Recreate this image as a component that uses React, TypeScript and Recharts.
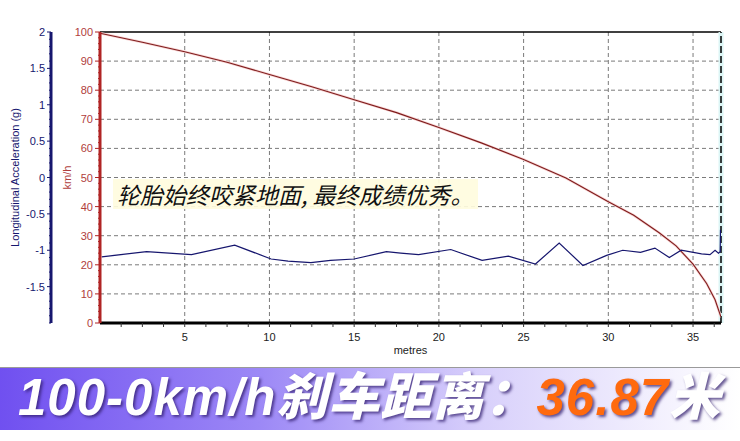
import React from 'react';
import { ComposedChart, Line, XAxis, YAxis, ReferenceLine } from 'recharts';

// speed trace: metres -> km/h
const speedDistance = [0, 2.5, 5, 7.5, 10, 12.5, 15, 17.5, 20, 22.5, 25, 27.5, 30, 31.5, 33, 34, 35, 35.8, 36.3, 36.65];
const speedValues = [99.6, 96.5, 93.2, 89.6, 85.4, 81.2, 76.7, 72.3, 67.2, 61.9, 56.2, 49.8, 41.7, 37, 31, 26.5, 20.2, 13.6, 8, 2];

// longitudinal acceleration trace: metres -> g
const accelDistance = [
  0.1, 2.75, 5.4, 7.95, 10.1, 11.1, 12.45, 13.6, 15.0, 16.9, 17.75, 18.8, 20.7, 22.55, 24.1, 25.7, 27.1, 28.5,
  29.9, 30.85, 31.9, 32.75, 33.6, 34.3, 35.5, 36.0, 36.3, 36.5, 36.6, 36.62,
];
const accelValues = [
  -1.09, -1.02, -1.06, -0.93, -1.12, -1.15, -1.17, -1.14, -1.12, -1.02, -1.04, -1.06, -0.99, -1.14, -1.08, -1.19, -0.9, -1.21,
  -1.07, -1.0, -1.03, -0.97, -1.1, -1.0, -1.05, -1.06, -1.0, -1.04, -1.02, -0.72,
];

const xEnd = 36.65;
const xMajorTicks = [5, 10, 15, 20, 25, 30, 35];
const speedMajorTicks = [0, 10, 20, 30, 40, 50, 60, 70, 80, 90, 100];
const accelTickLabels = ['2', '1.5', '1', '0.5', '0', '-0.5', '-1', '-1.5'];

const speedData = speedDistance.map((m, i) => ({ m, v: speedValues[i] }));
const accelData = accelDistance.map((m, i) => ({ m, g: accelValues[i] }));

// minor tick positions (major ones get a label)
const xTicks = Array.from({ length: 29 }, (_, i) => (i + 1) * 1.25);
const speedTicks = Array.from({ length: 51 }, (_, i) => i * 2);
const accelTicks = Array.from({ length: 41 }, (_, i) => (i - 20) / 10);

// axis ids: the first id sits next to the plot
const SPEED = 'a-speed';
const ACCEL = 'b-accel';

const RED = '#b02424';
const RED_TEXT = '#b0403c';
const NAVY = '#16166e';
const FONT = '"Liberation Sans", Arial, sans-serif';

const XTick = (props: any) => {
  const { x, y, payload } = props;
  const major = xMajorTicks.includes(payload.value);
  return (
    <g>
      <line x1={x} x2={x} y1={y} y2={y + 4} stroke="#333" strokeWidth={1} />
      {major && (
        <text x={x} y={y + 18} textAnchor="middle" fontSize={11} fontFamily={FONT} fill="#222">
          {payload.value}
        </text>
      )}
    </g>
  );
};

const SpeedTick = (props: any) => {
  const { x, y, payload } = props;
  const major = speedMajorTicks.includes(payload.value);
  return (
    <g>
      <line x1={x - (major ? 5 : 2)} x2={x} y1={y} y2={y} stroke={RED} strokeWidth={1} />
      {major && (
        <text x={x - 7} y={y + 4} textAnchor="end" fontSize={11} fontFamily={FONT} fill={RED_TEXT}>
          {payload.value}
        </text>
      )}
    </g>
  );
};

const AccelTick = (props: any) => {
  const { x, y, payload } = props;
  const label = accelTickLabels.find((t) => Math.abs(Number(t) - payload.value) < 1e-9);
  return (
    <g>
      <line x1={x - (label ? 4 : 2)} x2={x} y1={y} y2={y} stroke={NAVY} strokeWidth={1} />
      {label && (
        <text x={x - 6} y={y + 4} textAnchor="end" fontSize={11} fontFamily={FONT} fill={NAVY}>
          {label}
        </text>
      )}
    </g>
  );
};

const AccelTitle = (props: any) => {
  const { x, y, height } = props.viewBox;
  const cx = x + 15;
  const cy = y + height / 2;
  return (
    <text x={cx} y={cy} transform={`rotate(-90 ${cx} ${cy})`} textAnchor="middle" dominantBaseline="central"
      fontSize={11} fontFamily={FONT} fill={NAVY}>
      Longitudinal Acceleration (g)
    </text>
  );
};

const SpeedTitle = (props: any) => {
  const { x, y, height } = props.viewBox;
  const cx = x + 16;
  const cy = y + height / 2;
  return (
    <text x={cx} y={cy} transform={`rotate(-90 ${cx} ${cy})`} textAnchor="middle" dominantBaseline="central"
      fontSize={11} fontFamily={FONT} fill={RED_TEXT}>
      km/h
    </text>
  );
};

const XTitle = (props: any) => {
  const { x, y, width } = props.viewBox;
  return (
    <text x={x + width / 2} y={y + 31} textAnchor="middle" fontSize={11} fontFamily={FONT} fill="#222">
      metres
    </text>
  );
};

export default function App() {
  return (
    <div style={{ position: 'absolute', left: 0, top: 0, width: 740, height: 441, background: '#fff', overflow: 'hidden' }}>
      <ComposedChart width={740} height={360} margin={{ top: 32, right: 19, left: 0, bottom: 0 }}>
        <XAxis
          xAxisId="d"
          dataKey="m"
          type="number"
          domain={[0, xEnd]}
          allowDataOverflow
          ticks={xTicks}
          interval={0}
          tickSize={0}
          tickMargin={0}
          tick={<XTick />}
          axisLine={{ stroke: '#000', strokeWidth: 3 }}
          height={37}
          label={<XTitle />}
        />
        <YAxis
          yAxisId={SPEED}
          type="number"
          domain={[0, 100]}
          allowDataOverflow
          ticks={speedTicks}
          interval={0}
          tickSize={0}
          tickMargin={0}
          tick={<SpeedTick />}
          axisLine={{ stroke: RED, strokeWidth: 3 }}
          width={49}
          label={<SpeedTitle />}
        />
        <YAxis
          yAxisId={ACCEL}
          type="number"
          domain={[-2, 2]}
          allowDataOverflow
          ticks={accelTicks}
          interval={0}
          tickSize={0}
          tickMargin={0}
          tick={<AccelTick />}
          axisLine={{ stroke: NAVY, strokeWidth: 3 }}
          width={51}
          label={<AccelTitle />}
        />

        {speedMajorTicks.slice(1, -1).map((v) => (
          <ReferenceLine key={`h${v}`} xAxisId="d" yAxisId={SPEED} y={v} stroke="#7a7a7a" strokeDasharray="4 3" />
        ))}
        {xMajorTicks.map((v) => (
          <ReferenceLine key={`v${v}`} xAxisId="d" yAxisId={SPEED} x={v} stroke="#7a7a7a" strokeDasharray="4 3" />
        ))}
        <ReferenceLine xAxisId="d" yAxisId={SPEED} y={100} stroke="#000" strokeWidth={1.5} />
        <ReferenceLine xAxisId="d" yAxisId={SPEED} x={xEnd} stroke="#dcf5f5" strokeWidth={5} />
        <ReferenceLine xAxisId="d" yAxisId={SPEED} x={xEnd} stroke="#000" strokeWidth={1.5} strokeDasharray="7 3" />

        <Line
          xAxisId="d"
          yAxisId={SPEED}
          data={speedData}
          dataKey="v"
          type="linear"
          stroke="#f8d4d4"
          strokeWidth={2.6}
          dot={false}
          isAnimationActive={false}
        />
        <Line
          xAxisId="d"
          yAxisId={SPEED}
          data={speedData}
          dataKey="v"
          type="linear"
          stroke="#7e1c1c"
          strokeWidth={1.1}
          dot={false}
          isAnimationActive={false}
        />
        <Line
          xAxisId="d"
          yAxisId={ACCEL}
          data={accelData}
          dataKey="g"
          type="linear"
          stroke={NAVY}
          strokeWidth={1.2}
          dot={false}
          isAnimationActive={false}
        />
      </ComposedChart>

      <div
        style={{
          position: 'absolute',
          left: 113,
          top: 179,
          padding: '0 4px',
          background: 'rgba(255, 252, 222, 0.92)',
          fontFamily: '"Noto Sans CJK SC", sans-serif',
          fontSize: 23,
          lineHeight: '30px',
          color: '#111',
          fontStyle: 'italic',
          whiteSpace: 'nowrap',
        }}
      >
        轮胎始终咬紧地面, 最终成绩优秀。
      </div>

      <div
        style={{
          position: 'absolute',
          left: 0,
          top: 367,
          width: 740,
          height: 62,
          borderTop: '1px solid #9a9a9a',
          background: 'linear-gradient(to right, #7050f0 0%, #9c88f6 35%, #d8d0fb 65%, #ffffff 100%)',
        }}
      >
        <div
          style={{
            position: 'absolute',
            left: 18,
            top: 2,
            fontFamily: '"Liberation Sans", "Noto Sans CJK SC", sans-serif',
            fontSize: 51,
            fontWeight: 900,
            fontStyle: 'italic',
            lineHeight: '56px',
            letterSpacing: 1,
            color: '#fff',
            whiteSpace: 'nowrap',
            textShadow: '2px 2px 3px rgba(50, 30, 110, 0.75)',
          }}
        >
          100-0km/h刹车距离：<span style={{ color: '#ff6a0e' }}>36.87</span>米
        </div>
      </div>
    </div>
  );
}
